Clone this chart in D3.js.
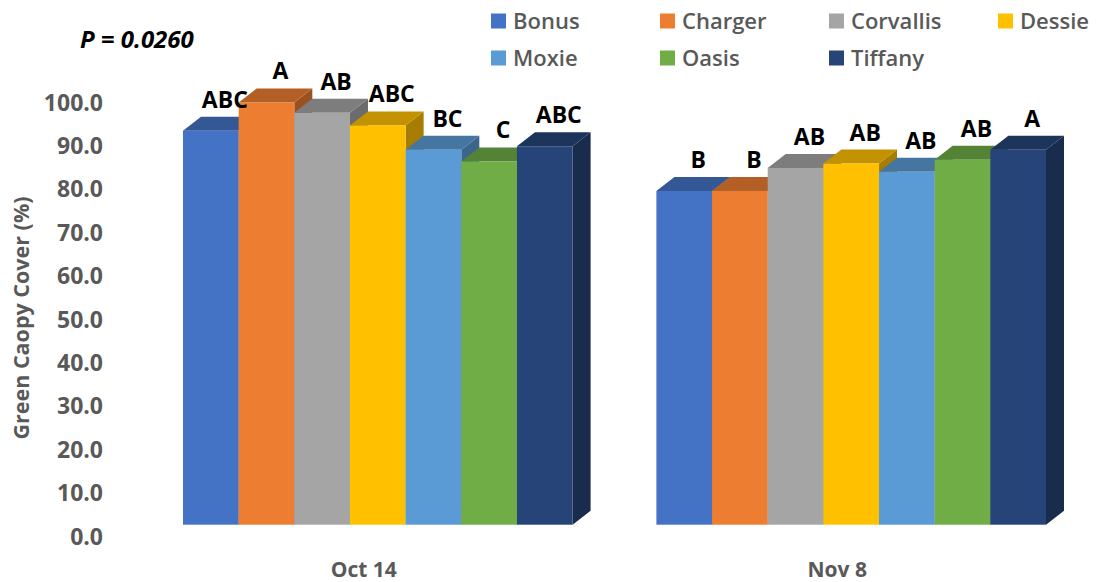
<!DOCTYPE html>
<html>
<head>
<meta charset="utf-8">
<script src="https://cdn.jsdelivr.net/npm/d3@7"></script>
<style>
  body { margin: 0; background: #fff; }
  text { font-family: 'Open Sans', sans-serif; }
</style>
</head>
<body>
<div id="chart-area"></div>
<script>
const canvas_width = 1096;
const canvas_height = 582;

const dates = ['Oct 14', 'Nov 8'];
const cultivars = ['Bonus', 'Charger', 'Corvallis', 'Dessie', 'Moxie', 'Oasis', 'Tiffany'];
const colors = ['#4472C4', '#ED7D31', '#A5A5A5', '#FFC000', '#5B9BD5', '#70AD47', '#264478'];
const oct14_values = [90.8, 97.3, 94.9, 92.0, 86.4, 83.7, 87.2];
const nov8_values = [76.9, 76.9, 82.2, 83.2, 81.3, 84.1, 86.4];
const oct14_letters = ['ABC', 'A', 'AB', 'ABC', 'BC', 'C', 'ABC'];
const nov8_letters = ['B', 'B', 'AB', 'AB', 'AB', 'AB', 'A'];
const y_ticks = [0, 10, 20, 30, 40, 50, 60, 70, 80, 90, 100];
const y_axis_label = 'Green Caopy Cover (%)';
const p_label = 'P = 0.0260';

const depth = { dx: 18, dy: 14 };
const label_grey = '#595959';

const series = [
    { date: dates[0], values: oct14_values, letters: oct14_letters },
    { date: dates[1], values: nov8_values, letters: nov8_letters }
];

let svg = d3.select('#chart-area').append('svg')
    .attr('width', canvas_width)
    .attr('height', canvas_height);

let x = d3.scaleBand()
    .domain(dates)
    .range([183, 1046])
    .paddingInner(0.177)
    .paddingOuter(0);

let xInner = d3.scaleBand()
    .domain(cultivars)
    .range([0, x.bandwidth()]);

let y = d3.scaleLinear()
    .domain([0, 100])
    .range([524.7, 90.7]);

let color = d3.scaleOrdinal().domain(cultivars).range(colors);

// y axis labels only (no line, no ticks), sitting a little below the bar front
let leftAxis = d3.axisLeft(y)
    .tickValues(y_ticks)
    .tickSize(0)
    .tickPadding(0)
    .tickFormat(d3.format('.1f'));

let yAxis = svg.append('g')
    .attr('class', 'left axis')
    .attr('transform', 'translate(103, 12)')
    .call(leftAxis);
yAxis.select('.domain').remove();
yAxis.selectAll('text')
    .attr('fill', label_grey)
    .attr('font-size', '23px')
    .attr('font-weight', 700)
    .attr('font-family', "'Open Sans', sans-serif");

svg.append('text')
    .attr('transform', 'translate(29, 318) rotate(-90)')
    .attr('text-anchor', 'middle')
    .attr('font-size', '21.5px')
    .attr('font-weight', 700)
    .attr('fill', label_grey)
    .text(y_axis_label);

// 3d bars
series.forEach((s) => {
    let g = svg.append('g').attr('transform', `translate(${x(s.date)}, 0)`);
    s.values.forEach((v, i) => {
        let name = cultivars[i];
        let x0 = xInner(name);
        let x1 = x0 + xInner.bandwidth();
        let yt = y(v);
        let yb = y(0);
        let c = d3.color(color(name));
        let bar = g.append('g').attr('class', 'bar');
        // right side face
        bar.append('path')
            .attr('d', `M${x1},${yb} L${x1},${yt} L${x1 + depth.dx},${yt - depth.dy} L${x1 + depth.dx},${yb - depth.dy} Z`)
            .attr('fill', c.darker(1.2));
        // top face
        bar.append('path')
            .attr('d', `M${x0},${yt} L${x1},${yt} L${x1 + depth.dx},${yt - depth.dy} L${x0 + depth.dx},${yt - depth.dy} Z`)
            .attr('fill', c.darker(0.77));
        // front face
        bar.append('rect')
            .attr('x', x0)
            .attr('y', yt)
            .attr('width', xInner.bandwidth())
            .attr('height', yb - yt)
            .attr('fill', c);
    });
    s.letters.forEach((l, i) => {
        let name = cultivars[i];
        g.append('text')
            .attr('x', xInner(name) + xInner.bandwidth() / 2 + 14)
            .attr('y', y(s.values[i]) - depth.dy - 9)
            .attr('text-anchor', 'middle')
            .attr('font-size', '23px')
            .attr('font-weight', 700)
            .attr('fill', '#000')
            .text(l);
    });
    svg.append('text')
        .attr('x', x(s.date) + x.bandwidth() / 2 - 14)
        .attr('y', 577)
        .attr('text-anchor', 'middle')
        .attr('font-size', '21px')
        .attr('font-weight', 700)
        .attr('fill', label_grey)
        .text(s.date);
});

// p value
svg.append('text')
    .attr('x', 80)
    .attr('y', 48)
    .attr('font-size', '24px')
    .attr('font-weight', 700)
    .attr('font-style', 'italic')
    .attr('fill', '#000')
    .text(p_label);

// legend, two rows of four
let legend = svg.append('g').attr('class', 'legend');
cultivars.forEach((name, i) => {
    let col = i % 4;
    let row = Math.floor(i / 4);
    let item = legend.append('g')
        .attr('transform', `translate(${491 + col * 169}, ${21 + row * 37})`);
    item.append('rect')
        .attr('x', 0)
        .attr('y', -7.5)
        .attr('width', 15)
        .attr('height', 15)
        .attr('fill', color(name));
    item.append('text')
        .attr('x', 22)
        .attr('y', 0)
        .attr('dy', '0.36em')
        .attr('font-size', '22px')
        .attr('font-weight', 600)
        .attr('fill', label_grey)
        .text(name);
});
</script>
</body>
</html>
